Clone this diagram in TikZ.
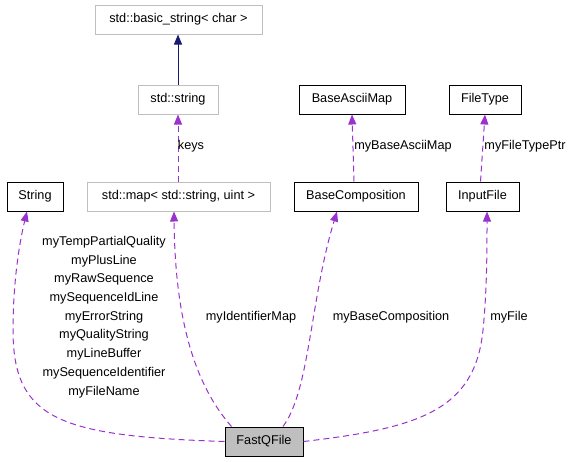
\documentclass[tikz,border=0pt]{standalone}
\usepackage{fontspec}
\setmainfont{Liberation Sans}
\usetikzlibrary{arrows.meta}
\definecolor{dep}{HTML}{9A32CD}
\definecolor{inh}{HTML}{191970}
\definecolor{gborder}{HTML}{BFBFBF}
\tikzset{
  cls/.style={draw=black, line width=1pt, inner sep=0pt, font=\fontsize{12.7pt}{15pt}\selectfont},
  gcls/.style={cls, draw=gborder},
  depline/.style={draw=dep, line width=1pt, dash pattern=on 6pt off 4pt, -{Triangle[length=10pt,width=8pt,fill=dep]}},
  inhline/.style={draw=inh, line width=1pt, -{Triangle[length=10pt,width=8pt,fill=inh]}},
  lbl/.style={inner sep=0pt, font=\fontsize{12.7pt}{18.7pt}\selectfont, align=center}
}
\begin{document}
\begin{tikzpicture}[x=1pt,y=-1pt]
\useasboundingbox (0,0) rectangle (573,461);
\node[gcls, minimum width=167pt, minimum height=29pt] (bs) at (178.5,19.5) {std::basic\_string< char >};
\node[gcls, minimum width=80pt, minimum height=29pt] (ss) at (178,99.5) {std::string};
\node[gcls, minimum width=183pt, minimum height=29pt] (map) at (178.5,196.5) {std::map< std::string, uint >};
\node[cls, minimum width=56pt, minimum height=29pt] (str) at (35,196.5) {String};
\node[cls, minimum width=106pt, minimum height=29pt] (bam) at (352,99.5) {BaseAsciiMap};
\node[cls, minimum width=72pt, minimum height=29pt] (ft) at (485,99.5) {FileType};
\node[cls, minimum width=124pt, minimum height=29pt] (bc) at (356,196.5) {BaseComposition};
\node[cls, minimum width=73pt, minimum height=29pt] (inf) at (482.5,196.5) {InputFile};
\node[cls, fill=gborder, minimum width=78pt, minimum height=29pt] (fq) at (264,441.5) {FastQFile};

\draw[inhline] (ss.north) -- (ss.north |- bs.south);
\draw[depline] (map.north -| ss.south) -- (ss.south);
\draw[depline] ([xshift=2pt]bc.north west -| bam.south) -- (bam.south);
\draw[depline] ([xshift=-2pt]inf.north) -- (ft.south);

\draw[depline] (fq.west) .. controls (60,436) and (13,420) .. (13,330) .. controls (13,280) and (20,240) .. ([xshift=-8pt]str.south);
\draw[depline] ([xshift=7pt]fq.north west) .. controls (195,385) and (175,320) .. ([xshift=-4.5pt]map.south);
\draw[depline] ([xshift=19pt]fq.north) .. controls (310,390) and (310,300) .. ([xshift=-19pt]bc.south);
\draw[depline] (fq.east) .. controls (420,428) and (475,410) .. (483,330) .. controls (487,290) and (487,250) .. ([xshift=4.5pt]inf.south);

\node[lbl] (l1) at (104,317) {myTempPartialQuality\\myPlusLine\\myRawSequence\\mySequenceIdLine\\myErrorString\\myQualityString\\myLineBuffer\\mySequenceIdentifier\\myFileName};
\node[lbl] (l2) at (191,146) {keys};
\node[lbl] (l3) at (403,146) {myBaseAsciiMap};
\node[lbl] (l4) at (525,146) {myFileTypePtr};
\node[lbl] (l5) at (251,317) {myIdentifierMap};
\node[lbl] (l6) at (391,317) {myBaseComposition};
\node[lbl] (l7) at (509,317) {myFile};
\end{tikzpicture}
\end{document}
